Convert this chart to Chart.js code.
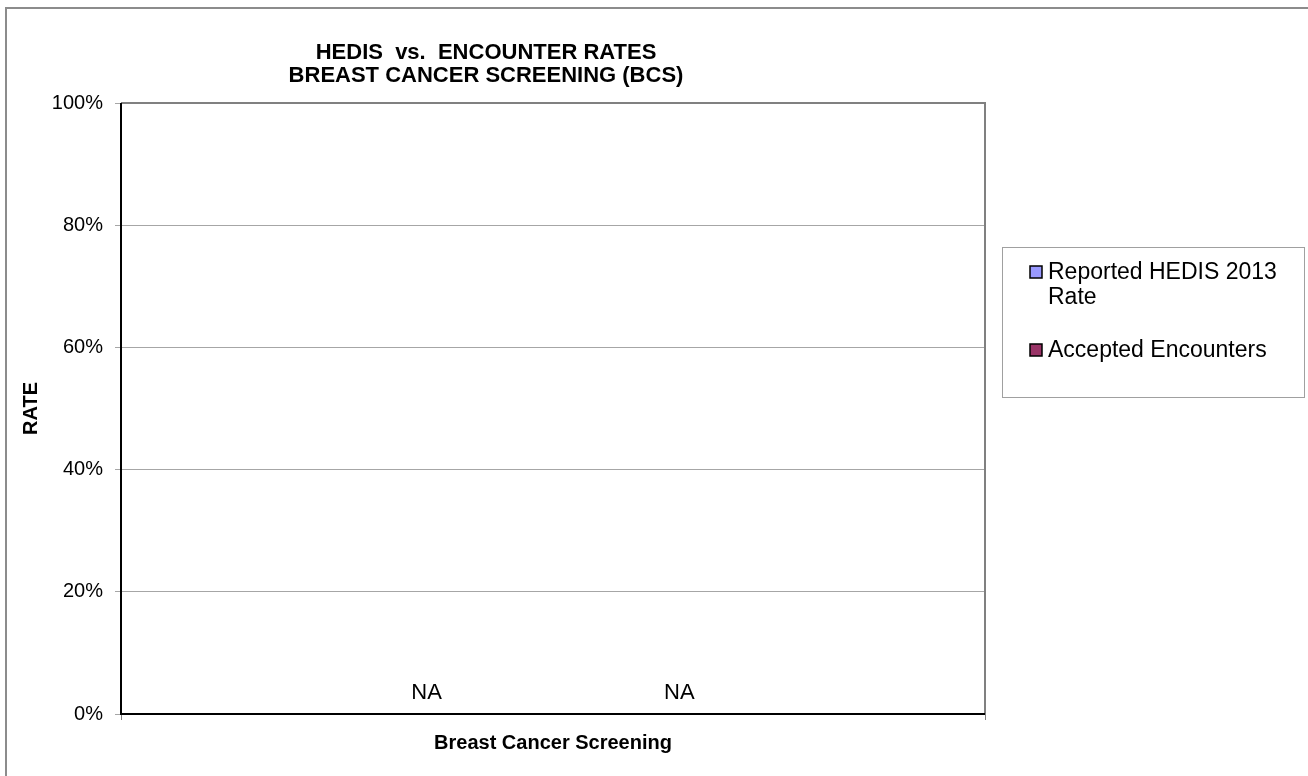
<!DOCTYPE html>
<html>
<head>
<meta charset="utf-8">
<script src="https://cdn.jsdelivr.net/npm/chart.js@4.4.1/dist/chart.umd.min.js"></script>
<style>
  html, body { margin: 0; padding: 0; background: #fff; }
  #wrap { position: relative; width: 1308px; height: 776px; }
  canvas { display: block; }
</style>
</head>
<body>
<div id="wrap"><canvas id="c" width="1308" height="776"></canvas></div>
<script>
const titleLines = ['HEDIS  vs.  ENCOUNTER RATES', 'BREAST CANCER SCREENING (BCS)'];
const categories = ['Breast Cancer Screening'];
const seriesNames = ['Reported HEDIS 2013 Rate', 'Accepted Encounters'];
const legendLines = [['Reported HEDIS 2013', 'Rate'], ['Accepted Encounters']];
const hedisRate = [null];
const acceptedEncounters = [null];
const valueLabels = ['NA', 'NA'];
const yTicks = [0, 20, 40, 60, 80, 100];
const yAxisTitle = 'RATE';

const FONT = '"Liberation Sans", Arial, sans-serif';

const decorPlugin = {
  id: 'decor',
  beforeDraw(chart) {
    const ctx = chart.ctx;
    ctx.save();
    ctx.fillStyle = '#fff';
    ctx.fillRect(0, 0, chart.width, chart.height);
    ctx.strokeStyle = '#8c8c8c';
    ctx.lineWidth = 2;
    ctx.beginPath();
    ctx.moveTo(6, chart.height);
    ctx.lineTo(6, 8);
    ctx.lineTo(chart.width, 8);
    ctx.stroke();
    ctx.restore();
  },
  afterDraw(chart) {
    const ctx = chart.ctx;
    const a = chart.chartArea;
    ctx.save();
    ctx.strokeStyle = '#808080';
    ctx.lineWidth = 2;
    ctx.beginPath();
    ctx.moveTo(a.left, a.top);
    ctx.lineTo(a.right, a.top);
    ctx.lineTo(a.right, a.bottom);
    ctx.stroke();
    ctx.strokeStyle = '#000';
    ctx.beginPath();
    ctx.moveTo(a.left, a.top);
    ctx.lineTo(a.left, a.bottom);
    ctx.lineTo(a.right, a.bottom);
    ctx.stroke();

    ctx.fillStyle = '#000';
    ctx.textAlign = 'center';
    ctx.textBaseline = 'middle';
    ctx.font = 'bold 22px ' + FONT;
    const cx = 486;
    ctx.fillText(titleLines[0], cx, 53);
    ctx.fillText(titleLines[1], cx, 76);

    const y0 = chart.scales.y.getPixelForValue(0);
    ctx.font = '22px ' + FONT;
    chart.data.datasets.forEach((ds, i) => {
      const meta = chart.getDatasetMeta(i);
      const el = meta.data[0];
      if (!el) return;
      ctx.fillText(valueLabels[i], el.x, y0 - 21);
    });

    const lx = 1002, ly = 247, lw = 302, lh = 150;
    ctx.strokeStyle = '#a0a0a0';
    ctx.lineWidth = 1;
    ctx.strokeRect(lx + 0.5, ly + 0.5, lw, lh);
    ctx.textAlign = 'left';
    ctx.font = '23px ' + FONT;
    const itemY = [272, 350];
    chart.data.datasets.forEach((ds, i) => {
      const y = itemY[i];
      ctx.fillStyle = ds.backgroundColor;
      ctx.fillRect(1030, y - 6, 12, 12);
      ctx.strokeStyle = '#000';
      ctx.lineWidth = 1.5;
      ctx.strokeRect(1030, y - 6, 12, 12);
      ctx.fillStyle = '#000';
      legendLines[i].forEach((t, k) => ctx.fillText(t, 1048, y + 1 + k * 25));
    });
    ctx.restore();
  }
};

new Chart(document.getElementById('c'), {
  type: 'bar',
  data: {
    labels: categories,
    datasets: [
      { label: seriesNames[0], data: hedisRate, backgroundColor: '#9999FF', borderColor: '#000', borderWidth: 1 },
      { label: seriesNames[1], data: acceptedEncounters, backgroundColor: '#993366', borderColor: '#000', borderWidth: 1 }
    ]
  },
  options: {
    responsive: false,
    animation: false,
    categoryPercentage: 0.585,
    barPercentage: 0.9,
    layout: { padding: { left: 0, top: 103, right: 323, bottom: 0 } },
    plugins: { legend: { display: false }, title: { display: false }, tooltip: { enabled: false } },
    scales: {
      x: {
        afterFit(s) { s.height = 62; },
        grid: { offset: true, drawOnChartArea: false, tickLength: 6, color: '#808080', lineWidth: 1 },
        border: { display: false },
        ticks: { color: '#000', font: { family: FONT, size: 20, weight: 'bold' }, padding: 11 }
      },
      y: {
        min: 0, max: 100,
        afterFit(s) { s.width = 121; },
        afterBuildTicks(s) { s.ticks = yTicks.map(v => ({ value: v })); },
        grid: { color: '#a6a6a6', lineWidth: 1, tickLength: 6 },
        border: { display: false },
        ticks: { color: '#000', font: { family: FONT, size: 20 }, padding: 12, callback: v => v + '%' },
        title: { display: true, text: yAxisTitle, color: '#000', font: { family: FONT, size: 20, weight: 'bold' }, padding: { top: 19, bottom: 0 } }
      }
    }
  },
  plugins: [decorPlugin]
});
</script>
</body>
</html>
